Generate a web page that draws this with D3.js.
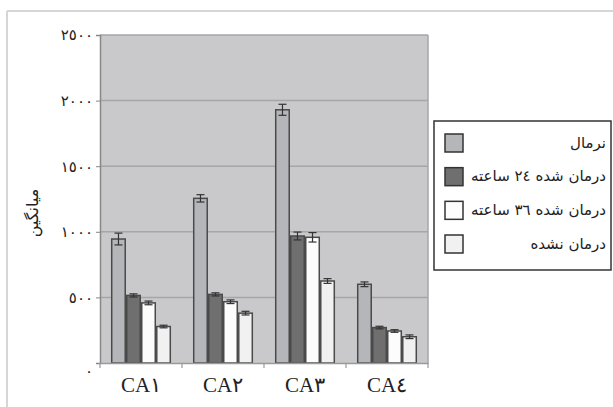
<!DOCTYPE html>
<html><head><meta charset="utf-8">
<script src="https://cdn.jsdelivr.net/npm/d3@7"></script>
<style>body{margin:0;background:#fff}svg{display:block}</style>
</head><body>
<svg id="c" width="613" height="407"></svg>
<script>
const categories = ["CA١", "CA٢", "CA٣", "CA٤"];
const seriesNames = ["نرمال", "درمان شده ٢٤ ساعته", "درمان شده ٣٦ ساعته", "درمان نشده"];
const normal    = [945, 1255, 1930, 600];
const treated24 = [515, 523, 968, 270];
const treated36 = [458, 467, 958, 244];
const untreated = [278, 380, 625, 200];
const errNormal    = [45, 28, 42, 18];
const errTreated24 = [12, 12, 30, 10];
const errTreated36 = [14, 14, 36, 10];
const errUntreated = [10, 14, 18, 14];
const yTicks = [0, 500, 1000, 1500, 2000, 2500];
const yTickLabels = ["٠", "٥٠٠", "١٠٠٠", "١٥٠٠", "٢٠٠٠", "٢٥٠٠"];
const yLabel = "میانگین";
const colors = ["#b4b6b9", "#6f6f70", "#fcfcfc", "#f1f1f1"];

const values = [normal, treated24, treated36, untreated];
const errors = [errNormal, errTreated24, errTreated36, errUntreated];

const svg = d3.select("#c");
const L = 100, R = 428, T = 35, B = 363;

svg.append("line").attr("x1",7).attr("x2",613).attr("y1",11).attr("y2",11).attr("stroke","#d6d6d6").attr("stroke-width",2);
svg.append("line").attr("x1",7).attr("x2",7).attr("y1",11).attr("y2",407).attr("stroke","#d6d6d6").attr("stroke-width",2);

const y = d3.scaleLinear().domain([0, 2500]).range([B, T]);
const x0 = d3.scaleBand().domain(categories).range([L, R]).padding(0);
const x1 = d3.scaleBand().domain(d3.range(4)).range([0, x0.bandwidth()]).paddingInner(0).paddingOuter(0.73);

svg.append("rect").attr("x",L).attr("y",T).attr("width",R-L).attr("height",B-T).attr("fill","#c9c9cb");
svg.append("g").selectAll("line").data(yTicks.filter(d=>d>0)).join("line")
  .attr("x1",L).attr("x2",R).attr("y1",d=>y(d)).attr("y2",d=>y(d))
  .attr("stroke","#a6a6a8").attr("stroke-width",1.5);
svg.append("line").attr("x1",R).attr("x2",R).attr("y1",T).attr("y2",B).attr("stroke","#a6a6a8").attr("stroke-width",1.5);

const gCat = svg.append("g").selectAll("g").data(categories).join("g")
  .attr("transform", d => `translate(${x0(d)},0)`);
gCat.each(function(cat, ci) {
  const g = d3.select(this);
  for (let s = 0; s < 4; s++) {
    const v = values[s][ci], e = errors[s][ci];
    const bx = x1(s), bw = x1.bandwidth();
    g.append("rect").attr("x", bx + 0.75).attr("y", y(v)).attr("width", bw - 1.5).attr("height", y(0) - y(v))
      .attr("fill", colors[s]).attr("stroke", "#4a4a4a").attr("stroke-width", 1.5);
    const cx = bx + bw / 2;
    g.append("line").attr("x1",cx).attr("x2",cx).attr("y1",y(v+e)).attr("y2",y(v-e)).attr("stroke","#333").attr("stroke-width",1.2);
    [v+e, v-e].forEach(t => g.append("line").attr("x1",cx-4).attr("x2",cx+4).attr("y1",y(t)).attr("y2",y(t)).attr("stroke","#333").attr("stroke-width",1.2));
  }
});

const yAxis = d3.axisLeft(y).tickValues(yTicks).tickSize(4).tickPadding(3)
  .tickFormat((d,i) => yTickLabels[i]);
const ya = svg.append("g").attr("transform", `translate(${L},0)`).call(yAxis);
ya.select(".domain").attr("stroke","#888").attr("stroke-width",1.5);
ya.selectAll(".tick line").attr("stroke","#888");
ya.selectAll(".tick text").attr("font-family","DejaVu Sans").attr("font-size",15).attr("fill","#222")
  .attr("dy", d => d === 0 ? "0.85em" : "0.32em");

const xAxis = d3.axisBottom(x0).tickSize(0).tickPadding(14);
const xa = svg.append("g").attr("transform", `translate(0,${B})`).call(xAxis);
xa.select(".domain").attr("stroke","#9a9a9a").attr("stroke-width",1.5);
xa.selectAll(".tick text").attr("font-family","Liberation Serif").attr("font-size",21).attr("fill","#222");
svg.append("g").selectAll("line").data(categories.map(c => x0(c)).concat([R])).join("line")
  .attr("x1",d=>d).attr("x2",d=>d).attr("y1",B).attr("y2",B+5).attr("stroke","#9a9a9a").attr("stroke-width",1.2);

svg.append("text").attr("transform","translate(33,213) rotate(-90)")
  .attr("text-anchor","middle").attr("dominant-baseline","middle")
  .attr("font-family","DejaVu Sans").attr("font-size",16).attr("fill","#222").text(yLabel);

const lg = svg.append("g");
lg.append("rect").attr("x",434).attr("y",121).attr("width",177).attr("height",149)
  .attr("fill","#fff").attr("stroke","#333").attr("stroke-width",1.5);
const ly = d3.scalePoint().domain(seriesNames).range([143, 244]);
seriesNames.forEach((n, i) => {
  lg.append("rect").attr("x",445).attr("y",ly(n)-9).attr("width",18).attr("height",18)
    .attr("fill",colors[i]).attr("stroke","#333").attr("stroke-width",1.5);
  lg.append("text").attr("x",606).attr("y",ly(n)).attr("text-anchor","start").attr("dominant-baseline","middle")
    .attr("direction","rtl").attr("font-family","DejaVu Sans").attr("font-size",15).attr("fill","#222").text(n);
});
</script>
</body></html>
